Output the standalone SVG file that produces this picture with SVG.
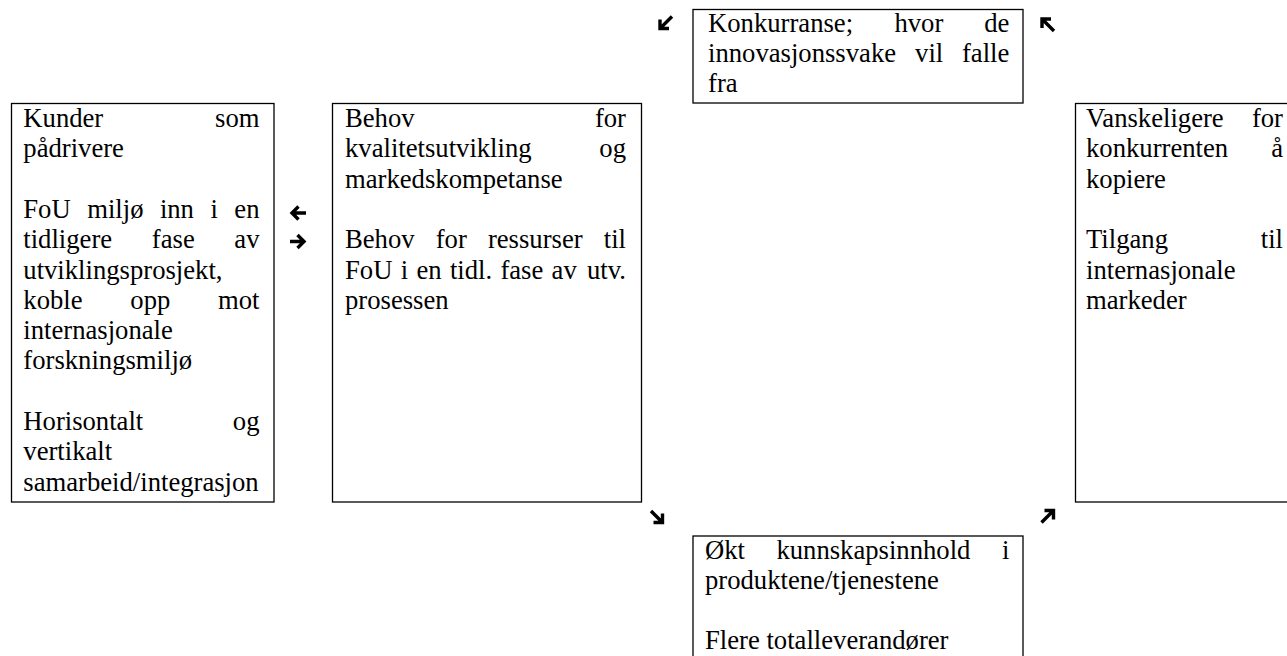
<svg xmlns="http://www.w3.org/2000/svg" width="1287" height="656" viewBox="0 0 1287 656">
<style>
.box{fill:#fff;stroke:#000;stroke-width:1.3}
.t{font-family:"Liberation Serif","Times New Roman",serif;font-size:26.67px;fill:#000}
.e{text-anchor:end}
.arr{fill:none;stroke:#000;stroke-width:3.4;stroke-linecap:butt;stroke-linejoin:miter}
</style>
<rect width="1287" height="656" fill="#fff"/>

<g id="node-kunder">
<rect class="box" x="11.5" y="103.5" width="262.5" height="398.5"/>
<text class="t" x="23.3" y="127">Kunder</text><text class="t e" x="259.5" y="127">som</text>
<text class="t" x="23.3" y="157.3">pådrivere</text>
<text class="t" x="23.3" y="217.9">FoU</text><text class="t" x="87.2" y="217.9">miljø</text><text class="t" x="159.9" y="217.9">inn</text><text class="t" x="210.5" y="217.9">i</text><text class="t e" x="259.5" y="217.9">en</text>
<text class="t" x="23.3" y="248.2">tidligere</text><text class="t" x="151.8" y="248.2">fase</text><text class="t e" x="259.5" y="248.2">av</text>
<text class="t" x="23.3" y="278.5">utviklingsprosjekt,</text>
<text class="t" x="23.3" y="308.8">koble</text><text class="t" x="130.3" y="308.8">opp</text><text class="t e" x="259.5" y="308.8">mot</text>
<text class="t" x="23.3" y="339.1">internasjonale</text>
<text class="t" x="23.3" y="369.4">forskningsmiljø</text>
<text class="t" x="23.3" y="430">Horisontalt</text><text class="t e" x="259.5" y="430">og</text>
<text class="t" x="23.3" y="460.3">vertikalt</text>
<text class="t" x="23.3" y="490.6">samarbeid/integrasjon</text>
</g>

<g id="node-behov">
<rect class="box" x="332.5" y="103.5" width="309" height="398.5"/>
<text class="t" x="345" y="127">Behov</text><text class="t e" x="626" y="127">for</text>
<text class="t" x="345" y="157.3">kvalitetsutvikling</text><text class="t e" x="626" y="157.3">og</text>
<text class="t" x="345" y="187.6">markedskompetanse</text>
<text class="t" x="345" y="248.2">Behov</text><text class="t" x="435.7" y="248.2">for</text><text class="t" x="487.9" y="248.2">ressurser</text><text class="t e" x="626" y="248.2">til</text>
<text class="t" x="345" y="278.5">FoU</text><text class="t" x="400.7" y="278.5">i</text><text class="t" x="416.4" y="278.5">en</text><text class="t" x="449.9" y="278.5">tidl.</text><text class="t" x="500.4" y="278.5">fase</text><text class="t" x="551.6" y="278.5">av</text><text class="t e" x="626" y="278.5">utv.</text>
<text class="t" x="345" y="308.8">prosessen</text>
</g>

<g id="node-konkurranse">
<rect class="box" x="693" y="9.5" width="330" height="93.5"/>
<text class="t" x="708" y="31.7">Konkurranse;</text><text class="t" x="894.4" y="31.7">hvor</text><text class="t e" x="1009.3" y="31.7">de</text>
<text class="t" x="708" y="62">innovasjonssvake</text><text class="t" x="915.1" y="62">vil</text><text class="t e" x="1009.3" y="62">falle</text>
<text class="t" x="708" y="92.3">fra</text>
</g>

<g id="node-vanskeligere">
<rect class="box" x="1075.5" y="103.5" width="230" height="398.5"/>
<text class="t" x="1086" y="127">Vanskeligere</text><text class="t e" x="1283" y="127">for</text>
<text class="t" x="1086" y="157.3">konkurrenten</text><text class="t e" x="1283" y="157.3">å</text>
<text class="t" x="1086" y="187.6">kopiere</text>
<text class="t" x="1086" y="248.2">Tilgang</text><text class="t e" x="1283" y="248.2">til</text>
<text class="t" x="1086" y="278.5">internasjonale</text>
<text class="t" x="1086" y="308.8">markeder</text>
</g>

<g id="node-okt">
<rect class="box" x="693" y="536" width="330" height="140"/>
<text class="t" x="705" y="558.5">Økt</text><text class="t" x="776.4" y="558.5">kunnskapsinnhold</text><text class="t e" x="1009.3" y="558.5">i</text>
<text class="t" x="705" y="588.8">produktene/tjenestene</text>
<text class="t" x="705" y="649.4">Flere totalleverandører</text>
</g>

<g id="connectors">
<path class="arr" d="M306,213 H292 M298.5,206.5 L292,213 L298.5,219.5"/>
<path class="arr" d="M290,241.5 H304 M297.5,235 L304,241.5 L297.5,248"/>
<path class="arr" d="M672,16.5 L660,28.5 M660,19.5 V28.5 H669"/>
<path class="arr" d="M1054,31 L1042,19 M1042,28 V19 H1051"/>
<path class="arr" d="M651,511 L662.5,522.5 M662.5,513.5 V522.5 H653.5"/>
<path class="arr" d="M1041.5,522.5 L1053.5,510.5 M1044.5,510.5 H1053.5 V519.5"/>
</g>
</svg>
